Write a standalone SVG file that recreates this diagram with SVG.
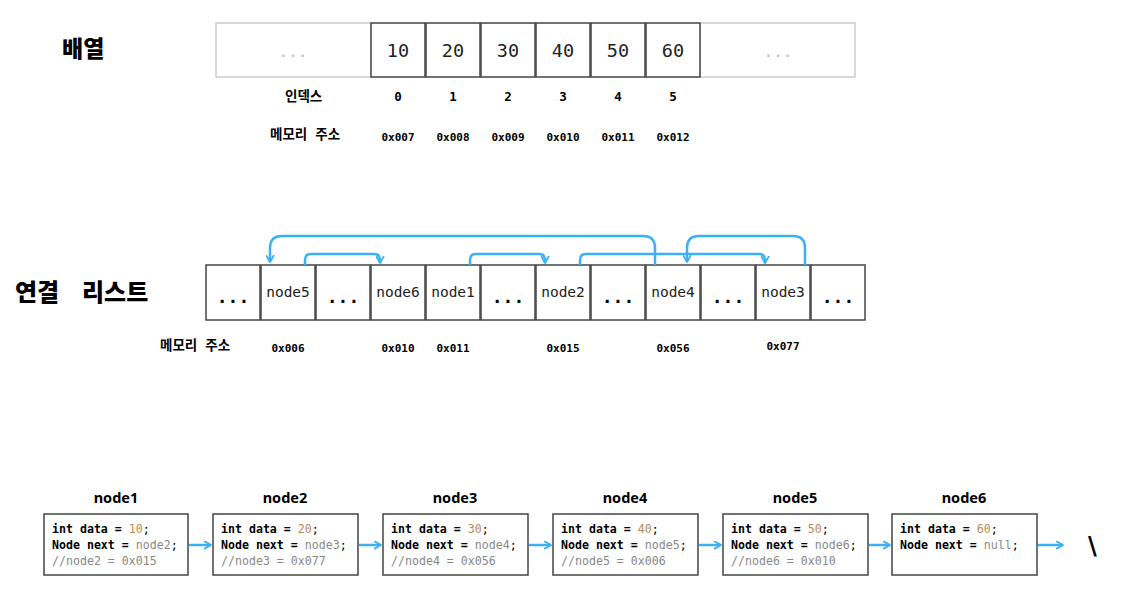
<svg xmlns="http://www.w3.org/2000/svg" width="1128" height="592" viewBox="0 0 1128 592">
<defs>
<marker id="ah2" viewBox="0 0 10 10" refX="8" refY="5" markerWidth="9" markerHeight="9" orient="auto" markerUnits="userSpaceOnUse">
<polyline points="1,1 8,5 1,9" fill="none" stroke="#3bb0f7" stroke-width="2" stroke-linecap="round" stroke-linejoin="round"/>
</marker>
</defs>
<style>
.title{font-family:"Noto Sans CJK KR","Noto Sans",sans-serif;font-weight:900;font-size:23px;fill:#000}
.big{font-size:24px}
.lbl{font-family:"Noto Sans CJK KR","Noto Sans",sans-serif;font-weight:bold;font-size:13.5px;fill:#000}
.idx{font-family:"DejaVu Sans Mono",monospace;font-weight:bold;font-size:12.5px;text-anchor:middle;fill:#000}
.addr{font-family:"DejaVu Sans Mono",monospace;font-weight:bold;font-size:11px;text-anchor:middle;fill:#000}
.cell{fill:#fff;stroke:#444;stroke-width:1.5}
.gcell{fill:#fff;stroke:#ccc;stroke-width:1.5}
.val{font-family:"DejaVu Sans Mono",monospace;font-size:18.5px;text-anchor:middle;fill:#222}
.gdots{font-family:"DejaVu Sans Mono",monospace;font-size:16px;text-anchor:middle;fill:#bbb}
.dots{font-family:"DejaVu Sans Mono",monospace;font-size:18px;font-weight:bold;text-anchor:middle;fill:#000}
.nname{font-family:"DejaVu Sans Mono",monospace;font-size:14.5px;text-anchor:middle;fill:#222}
.ntitle{font-family:"Noto Sans","Noto Sans CJK KR",sans-serif;font-weight:bold;font-size:14.5px;text-anchor:middle;fill:#000}
.code{font-family:"DejaVu Sans Mono",monospace;font-size:11.6px;fill:#000}
.b{font-weight:bold}
.num{fill:#b58a55}
.g{fill:#888}
.box{fill:#fff;stroke:#444;stroke-width:1.5}
.link{fill:none;stroke:#3bb0f7;stroke-width:2.5}
</style>

<!-- Array section -->
<text class="title" x="62" y="57">배열</text>
<g id="array">
<rect class="gcell" x="216" y="23" width="155" height="54"/>
<text class="gdots" x="293" y="57">...</text>
<rect class="gcell" x="700" y="23" width="155" height="54"/>
<text class="gdots" x="778" y="57">...</text>
<rect class="cell" x="371" y="23" width="54" height="54"/><text class="val" x="398" y="57">10</text>
<rect class="cell" x="426" y="23" width="54" height="54"/><text class="val" x="453" y="57">20</text>
<rect class="cell" x="481" y="23" width="54" height="54"/><text class="val" x="508" y="57">30</text>
<rect class="cell" x="536" y="23" width="54" height="54"/><text class="val" x="563" y="57">40</text>
<rect class="cell" x="591" y="23" width="54" height="54"/><text class="val" x="618" y="57">50</text>
<rect class="cell" x="646" y="23" width="54" height="54"/><text class="val" x="673" y="57">60</text>
</g>
<text class="lbl" x="285" y="101">인덱스</text>
<text class="idx" x="398" y="101">0</text>
<text class="idx" x="453" y="101">1</text>
<text class="idx" x="508" y="101">2</text>
<text class="idx" x="563" y="101">3</text>
<text class="idx" x="618" y="101">4</text>
<text class="idx" x="673" y="101">5</text>
<text class="lbl" x="270" y="139">메모리<tspan dx="8">주소</tspan></text>
<text class="addr" x="398" y="141">0x007</text>
<text class="addr" x="453" y="141">0x008</text>
<text class="addr" x="508" y="141">0x009</text>
<text class="addr" x="563" y="141">0x010</text>
<text class="addr" x="618" y="141">0x011</text>
<text class="addr" x="673" y="141">0x012</text>

<!-- Linked list memory section -->
<text class="title big" x="15" y="301">연결<tspan x="82">리스트</tspan></text>
<g id="memory">
<rect class="cell" x="206" y="265" width="54" height="55"/><text class="dots" x="233" y="303">...</text>
<rect class="cell" x="261" y="265" width="54" height="55"/><text class="nname" x="288" y="297">node5</text>
<rect class="cell" x="316" y="265" width="54" height="55"/><text class="dots" x="343" y="303">...</text>
<rect class="cell" x="371" y="265" width="54" height="55"/><text class="nname" x="398" y="297">node6</text>
<rect class="cell" x="426" y="265" width="54" height="55"/><text class="nname" x="453" y="297">node1</text>
<rect class="cell" x="481" y="265" width="54" height="55"/><text class="dots" x="508" y="303">...</text>
<rect class="cell" x="536" y="265" width="54" height="55"/><text class="nname" x="563" y="297">node2</text>
<rect class="cell" x="591" y="265" width="54" height="55"/><text class="dots" x="618" y="303">...</text>
<rect class="cell" x="646" y="265" width="54" height="55"/><text class="nname" x="673" y="297">node4</text>
<rect class="cell" x="701" y="265" width="54" height="55"/><text class="dots" x="728" y="303">...</text>
<rect class="cell" x="756" y="265" width="54" height="55"/><text class="nname" x="783" y="297">node3</text>
<rect class="cell" x="811" y="265" width="54" height="55"/><text class="dots" x="838" y="303">...</text>
</g>
<text class="lbl" x="160" y="350">메모리<tspan dx="8">주소</tspan></text>
<text class="addr" x="288" y="352">0x006</text>
<text class="addr" x="398" y="352">0x010</text>
<text class="addr" x="453" y="352">0x011</text>
<text class="addr" x="563" y="352">0x015</text>
<text class="addr" x="673" y="352">0x056</text>
<text class="addr" x="783" y="350">0x077</text>

<!-- Bottom nodes -->
<g id="node1">
<text class="ntitle" x="116" y="503">node1</text>
<rect class="box" x="44" y="514" width="144" height="61"/>
<text class="code" x="52" y="533"><tspan class="b">int data =</tspan> <tspan class="num">10</tspan>;</text>
<text class="code" x="52" y="549"><tspan class="b">Node next =</tspan> <tspan class="g">node2</tspan>;</text>
<text class="code g" x="52" y="565">//node2 = 0x015</text>
</g>
<g id="node2">
<text class="ntitle" x="285" y="503">node2</text>
<rect class="box" x="213" y="514" width="145" height="61"/>
<text class="code" x="221" y="533"><tspan class="b">int data =</tspan> <tspan class="num">20</tspan>;</text>
<text class="code" x="221" y="549"><tspan class="b">Node next =</tspan> <tspan class="g">node3</tspan>;</text>
<text class="code g" x="221" y="565">//node3 = 0x077</text>
</g>
<g id="node3">
<text class="ntitle" x="455" y="503">node3</text>
<rect class="box" x="383" y="514" width="145" height="61"/>
<text class="code" x="391" y="533"><tspan class="b">int data =</tspan> <tspan class="num">30</tspan>;</text>
<text class="code" x="391" y="549"><tspan class="b">Node next =</tspan> <tspan class="g">node4</tspan>;</text>
<text class="code g" x="391" y="565">//node4 = 0x056</text>
</g>
<g id="node4">
<text class="ntitle" x="625" y="503">node4</text>
<rect class="box" x="553" y="514" width="145" height="61"/>
<text class="code" x="561" y="533"><tspan class="b">int data =</tspan> <tspan class="num">40</tspan>;</text>
<text class="code" x="561" y="549"><tspan class="b">Node next =</tspan> <tspan class="g">node5</tspan>;</text>
<text class="code g" x="561" y="565">//node5 = 0x006</text>
</g>
<g id="node5">
<text class="ntitle" x="795" y="503">node5</text>
<rect class="box" x="723" y="514" width="145" height="61"/>
<text class="code" x="731" y="533"><tspan class="b">int data =</tspan> <tspan class="num">50</tspan>;</text>
<text class="code" x="731" y="549"><tspan class="b">Node next =</tspan> <tspan class="g">node6</tspan>;</text>
<text class="code g" x="731" y="565">//node6 = 0x010</text>
</g>
<g id="node6">
<text class="ntitle" x="964" y="503">node6</text>
<rect class="box" x="892" y="514" width="145" height="61"/>
<text class="code" x="900" y="533"><tspan class="b">int data =</tspan> <tspan class="num">60</tspan>;</text>
<text class="code" x="900" y="549"><tspan class="b">Node next =</tspan> <tspan class="g">null</tspan>;</text>
</g>
<text x="1088" y="554" font-family="DejaVu Sans, sans-serif" font-weight="bold" font-size="24" fill="#000">\</text>

<!-- Connectors -->
<g id="connectors">
<path class="link" marker-end="url(#ah2)" d="M655,265 V248 Q655,236 643,236 H282 Q270,236 270,248 V262"/>
<path class="link" marker-end="url(#ah2)" d="M805,265 V248 Q805,236 793,236 H699 Q687,236 687,248 V262"/>
<path class="link" marker-end="url(#ah2)" d="M305,265 V260 Q305,254 311,254 H374 Q380,254 380,260 V263"/>
<path class="link" marker-end="url(#ah2)" d="M470,265 V260 Q470,254 476,254 H539 Q545,254 545,260 V263"/>
<path class="link" marker-end="url(#ah2)" d="M580,265 V260 Q580,254 586,254 H759 Q765,254 765,260 V263"/>
<path class="link" marker-end="url(#ah2)" d="M189,545 H211"/>
<path class="link" marker-end="url(#ah2)" d="M359,545 H381"/>
<path class="link" marker-end="url(#ah2)" d="M529,545 H551"/>
<path class="link" marker-end="url(#ah2)" d="M699,545 H721"/>
<path class="link" marker-end="url(#ah2)" d="M869,545 H890"/>
<path class="link" marker-end="url(#ah2)" d="M1038,545 H1063"/>
</g>
</svg>
